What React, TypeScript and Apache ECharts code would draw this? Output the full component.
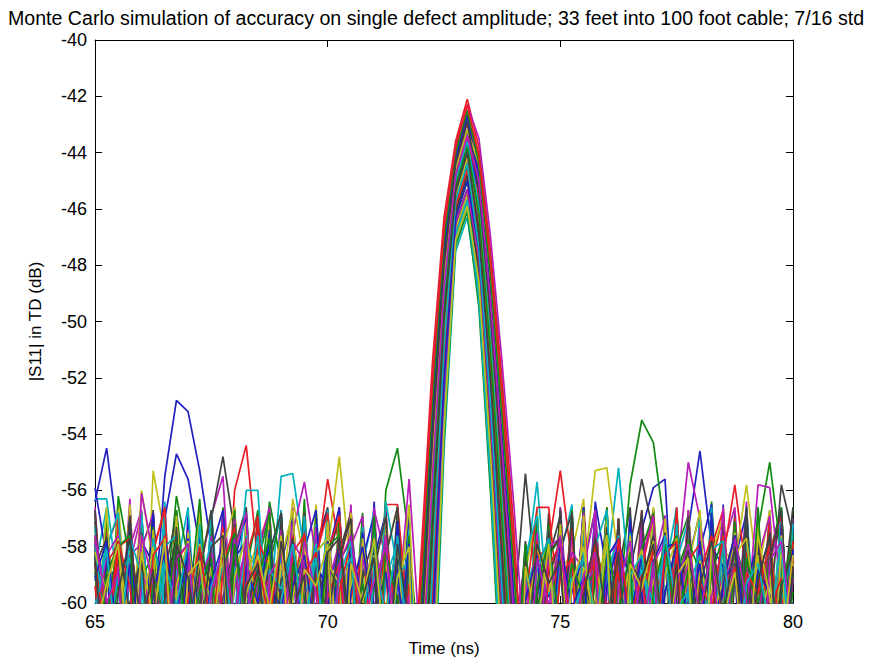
import React, { useEffect, useRef } from "react";
import * as echarts from "echarts";

const titleText =
  "Monte Carlo simulation of accuracy on single defect amplitude; 33 feet into 100 foot cable; 7/16 std";
const xName = "Time (ns)";
const yName = "|S11| in TD (dB)";
const xTicks = { min: 65, max: 80, step: 5 };
const yTicks = { min: -60, max: -40, step: 2 };

// sample times (ns)
const times = [65, 65.25, 65.5, 65.75, 66, 66.25, 66.5, 66.75, 67, 67.25, 67.5, 67.75, 68, 68.25, 68.5, 68.75, 69, 69.25, 69.5, 69.75, 70, 70.25, 70.5, 70.75, 71, 71.25, 71.5, 71.75, 72, 72.25, 72.5, 72.75, 73, 73.25, 73.5, 73.75, 74, 74.25, 74.5, 74.75, 75, 75.25, 75.5, 75.75, 76, 76.25, 76.5, 76.75, 77, 77.25, 77.5, 77.75, 78, 78.25, 78.5, 78.75, 79, 79.25, 79.5, 79.75, 80];

// MATLAB default line colour order
const lineColors = ["#2020c0", "#128a12", "#ea1c24", "#00b2bf", "#b81cb8", "#c0c01c", "#404040"];

// Monte Carlo runs, |S11| in dB at each sample time
const run00 = [-56.4, -54.5, -57.8, -63.0, -57.6, -68.0, -58.2, -63.5, -56.9, -70.0, -62.4, -57.3, -66.0, -58.6, -64.8, -56.6, -72.0, -57.9, -63.2, -65.5, -57.1, -67.0, -58.9, -62.8, -56.4, -68.5, -63.0, -65.8, -66.8, -58.3, -50.5, -45.6, -44.2, -45.9, -50.6, -56.5, -62.7, -68.0, -58.1, -64.3, -57.0, -69.0, -62.2, -56.7, -65.4, -58.5, -63.8, -57.4, -55.9, -55.6, -62.9, -66.5, -57.7, -64.0, -56.5, -71.0, -58.8, -63.4, -57.2, -65.0, -58.0];
const run01 = [-58.4, -64.0, -56.9, -62.6, -67.5, -57.2, -63.7, -58.0, -65.9, -56.5, -62.1, -69.0, -57.8, -64.4, -58.7, -66.2, -57.0, -63.1, -56.3, -65.0, -62.5, -57.6, -68.0, -58.3, -63.9, -56.0, -54.5, -57.8, -62.6, -54.9, -48.4, -44.6, -43.2, -45.6, -50.2, -55.8, -61.9, -66.0, -57.3, -62.7, -56.6, -64.9, -58.4, -68.0, -57.1, -63.3, -56.9, -65.6, -62.0, -57.7, -67.0, -58.6, -64.2, -56.4, -62.9, -66.1, -57.5, -63.6, -58.2, -56.7, -64.5];
const run02 = [-62.8, -57.4, -65.1, -56.7, -63.9, -58.5, -68.0, -57.2, -62.3, -64.7, -56.8, -63.0, -56.0, -54.4, -58.6, -67.2, -58.1, -64.0, -57.0, -62.9, -65.8, -56.6, -63.4, -58.8, -69.0, -57.9, -64.5, -67.0, -58.5, -51.5, -46.3, -43.6, -42.1, -43.8, -47.5, -52.1, -57.3, -64.5, -68.0, -58.0, -63.7, -57.3, -65.4, -62.1, -56.6, -64.8, -58.7, -67.3, -57.4, -62.6, -56.9, -66.0, -63.2, -57.8, -64.1, -58.3, -68.4, -57.0, -62.4, -65.1, -58.6];
const run03 = [-56.9, -63.3, -58.2, -66.0, -57.6, -62.5, -56.4, -64.6, -58.9, -68.0, -57.3, -63.1, -65.3, -56.8, -62.7, -60.5, -55.5, -55.4, -58.2, -64.8, -58.4, -67.5, -57.0, -63.6, -58.0, -65.7, -56.5, -62.9, -70.9, -61.6, -52.5, -46.5, -45.3, -47.4, -52.9, -59.6, -66.6, -62.1, -57.0, -64.9, -58.3, -56.5, -66.8, -62.6, -57.9, -63.5, -56.8, -65.2, -58.7, -68.1, -57.3, -62.8, -64.4, -56.9, -63.0, -58.5, -66.3, -57.6, -62.2, -56.6, -65.0];
const run04 = [-64.1, -57.7, -62.4, -56.3, -65.6, -58.0, -63.8, -57.1, -67.4, -58.8, -56.9, -55.5, -62.6, -65.0, -57.4, -63.2, -56.7, -66.6, -58.4, -64.0, -57.2, -62.9, -56.5, -68.3, -58.1, -63.5, -57.6, -64.7, -64.3, -56.2, -49.2, -45.0, -43.6, -45.3, -49.7, -55.2, -61.2, -58.4, -57.2, -64.0, -56.6, -62.5, -65.9, -56.6, -63.3, -58.0, -67.2, -57.1, -62.7, -64.6, -56.9, -63.8, -58.3, -66.0, -57.5, -62.1, -56.4, -64.9, -58.7, -63.0, -57.2];
const run05 = [-57.8, -63.6, -56.4, -62.1, -64.9, -55.3, -57.6, -65.8, -58.2, -63.0, -57.0, -67.7, -58.6, -64.3, -56.8, -62.6, -57.9, -65.5, -62.0, -56.5, -63.7, -58.1, -66.4, -57.3, -62.8, -64.2, -58.5, -68.0, -68.4, -59.6, -51.3, -45.9, -44.6, -47.7, -53.4, -60.2, -67.4, -62.3, -57.6, -64.4, -58.9, -58.2, -56.3, -63.5, -65.7, -57.2, -62.6, -56.9, -67.0, -58.4, -63.9, -57.7, -62.0, -65.3, -56.6, -63.1, -58.0, -66.6, -57.4, -62.7, -64.0];
const run06 = [-62.2, -56.9, -64.5, -58.1, -63.3, -57.4, -66.2, -62.0, -57.7, -64.1, -57.0, -54.8, -57.5, -63.8, -58.6, -65.3, -57.1, -62.4, -68.2, -58.0, -56.6, -63.6, -57.9, -65.1, -62.3, -56.8, -64.4, -66.8, -65.9, -57.6, -50.0, -45.4, -44.0, -46.8, -52.0, -58.3, -65.0, -57.9, -63.2, -56.8, -65.0, -58.5, -62.8, -57.2, -67.6, -58.9, -56.6, -64.3, -62.1, -57.5, -63.7, -56.9, -66.2, -58.2, -63.0, -57.0, -64.6, -62.4, -56.7, -65.5, -58.3];
const run07 = [-58.3, -64.0, -57.1, -62.7, -66.5, -61.0, -55.5, -52.8, -53.2, -55.3, -58.0, -65.2, -58.6, -63.4, -56.9, -62.2, -67.0, -57.7, -63.9, -58.2, -56.7, -64.8, -62.1, -57.4, -66.1, -58.7, -63.2, -56.6, -71.7, -62.3, -52.9, -46.7, -45.5, -48.9, -55.2, -62.7, -70.5, -58.6, -56.9, -63.8, -57.6, -65.4, -62.0, -57.2, -64.7, -58.3, -67.1, -56.8, -62.9, -57.8, -63.5, -66.0, -58.1, -56.5, -64.2, -62.5, -57.4, -65.6, -58.8, -63.1, -57.0];
const run08 = [-63.0, -57.5, -62.3, -56.9, -64.7, -58.4, -66.6, -57.2, -63.5, -58.0, -65.1, -56.6, -62.8, -57.9, -64.0, -58.7, -56.8, -63.6, -66.3, -57.3, -62.5, -64.9, -56.9, -62.0, -57.7, -65.4, -58.5, -64.1, -61.0, -53.5, -47.5, -44.2, -42.7, -44.1, -47.9, -52.7, -58.1, -63.5, -58.2, -63.0, -57.0, -64.8, -58.6, -56.7, -62.9, -60.5, -55.8, -53.5, -54.3, -57.5, -64.4, -58.0, -63.3, -57.1, -65.9, -62.2, -56.8, -63.7, -58.4, -64.6, -57.6];
const run09 = [-57.6, -62.9, -65.3, -56.7, -63.2, -58.0, -64.4, -57.3, -62.6, -67.3, -57.9, -63.7, -56.6, -65.6, -58.9, -63.0, -57.4, -64.6, -62.3, -58.8, -55.6, -58.0, -64.1, -58.4, -66.5, -57.0, -62.7, -65.0, -66.8, -58.3, -50.5, -45.6, -44.2, -47.1, -52.5, -58.9, -65.8, -63.4, -57.2, -62.6, -56.9, -65.0, -58.8, -63.9, -57.5, -66.4, -62.1, -56.7, -64.3, -58.2, -63.0, -57.0, -67.5, -58.6, -56.9, -64.0, -62.4, -57.6, -65.2, -58.0, -63.2];
const run10 = [-62.0, -56.8, -64.2, -58.3, -63.6, -57.1, -65.5, -58.8, -56.6, -63.1, -58.0, -66.7, -57.5, -62.9, -64.8, -56.9, -62.3, -57.7, -67.1, -58.5, -63.4, -57.0, -64.0, -58.7, -56.7, -65.6, -62.2, -57.4, -75.0, -65.0, -54.6, -47.5, -46.3, -49.2, -55.7, -63.3, -71.2, -59.0, -55.7, -60.5, -64.5, -58.4, -63.2, -56.8, -65.9, -57.6, -62.7, -57.1, -64.4, -58.9, -56.6, -63.5, -57.8, -66.2, -58.3, -63.8, -56.9, -62.5, -64.9, -57.3, -62.8];
const run11 = [-56.6, -62.4, -57.9, -65.0, -58.6, -63.8, -57.2, -66.9, -62.0, -56.9, -64.5, -58.3, -63.1, -57.0, -65.7, -58.9, -62.6, -57.5, -55.7, -58.4, -64.2, -56.8, -62.9, -66.0, -57.6, -63.3, -58.1, -64.6, -63.5, -55.6, -48.8, -44.8, -43.4, -44.7, -48.8, -54.0, -59.6, -66.0, -58.1, -63.6, -57.3, -62.2, -56.6, -65.3, -58.7, -63.0, -57.4, -67.0, -62.3, -56.9, -64.1, -58.0, -63.5, -57.6, -65.7, -62.0, -56.7, -64.4, -58.5, -57.2, -63.3];
const run12 = [-63.5, -57.0, -62.7, -56.5, -64.3, -58.4, -63.0, -57.6, -66.1, -58.8, -56.7, -64.0, -62.3, -57.4, -65.4, -58.1, -63.7, -56.9, -62.5, -64.8, -58.2, -54.8, -59.0, -65.0, -57.5, -63.2, -58.7, -66.4, -69.2, -60.3, -51.7, -46.1, -44.8, -46.8, -52.0, -58.3, -65.0, -58.7, -64.1, -57.4, -62.8, -56.8, -65.6, -58.2, -63.4, -57.1, -66.3, -62.0, -56.6, -63.9, -58.5, -64.7, -57.3, -62.6, -56.9, -65.1, -58.8, -63.0, -57.7, -66.8, -58.3];
const run13 = [-58.2, -63.7, -57.3, -62.0, -65.2, -56.8, -63.3, -58.5, -64.6, -57.0, -62.8, -67.0, -58.0, -56.6, -63.9, -57.7, -65.5, -62.2, -57.1, -64.4, -58.6, -56.9, -63.0, -66.2, -57.8, -62.4, -56.7, -64.9, -65.1, -56.9, -49.6, -45.2, -43.8, -46.5, -51.6, -57.7, -60.5, -55.4, -59.8, -64.6, -57.2, -62.9, -56.6, -65.8, -58.1, -63.3, -57.5, -62.1, -64.8, -56.9, -63.6, -58.4, -66.5, -57.0, -62.7, -56.8, -64.2, -58.0, -63.4, -57.6, -65.3];
const run14 = [-62.6, -57.2, -64.9, -58.7, -63.4, -66.0, -57.0, -54.7, -55.6, -58.0, -64.7, -58.3, -63.0, -57.4, -62.2, -65.6, -56.8, -63.5, -58.0, -64.3, -57.6, -62.9, -67.2, -58.4, -56.9, -63.8, -57.3, -62.5, -73.4, -63.7, -53.8, -47.1, -45.9, -48.3, -54.3, -61.4, -68.9, -62.2, -57.0, -64.5, -58.6, -63.1, -66.3, -56.4, -58.9, -64.0, -57.3, -62.6, -56.7, -65.1, -58.2, -63.6, -57.7, -62.3, -67.4, -58.5, -56.8, -64.2, -62.0, -57.4, -63.7];
const run15 = [-57.7, -63.3, -56.2, -58.5, -64.6, -57.1, -62.4, -56.8, -65.3, -58.2, -63.7, -57.5, -66.6, -58.9, -56.7, -64.1, -62.0, -57.6, -63.2, -56.9, -65.9, -58.4, -62.8, -57.2, -64.4, -58.0, -63.6, -66.7, -67.6, -58.9, -50.9, -45.7, -44.4, -46.2, -51.1, -57.1, -63.5, -58.5, -63.8, -57.6, -62.3, -56.9, -64.9, -58.1, -63.4, -57.0, -65.8, -62.6, -57.4, -63.1, -56.7, -64.5, -58.6, -66.1, -57.8, -62.9, -57.2, -63.9, -58.3, -56.6, -64.3];
const run16 = [-63.9, -58.0, -56.9, -64.2, -62.1, -57.5, -65.4, -58.6, -63.2, -56.7, -62.7, -57.9, -64.8, -58.3, -67.0, -57.2, -62.5, -63.8, -56.8, -65.1, -58.7, -63.0, -57.4, -62.2, -64.7, -56.6, -63.5, -65.6, -60.2, -52.9, -47.1, -44.0, -42.6, -44.7, -48.8, -54.0, -59.6, -63.0, -58.4, -58.0, -55.3, -58.6, -64.4, -62.0, -56.8, -63.9, -58.1, -65.5, -57.3, -62.8, -56.6, -64.0, -58.7, -63.3, -57.5, -66.4, -58.0, -62.6, -56.9, -64.7, -58.6];
const run17 = [-58.8, -56.6, -63.4, -57.9, -65.0, -62.2, -57.1, -64.5, -58.4, -63.1, -56.9, -66.1, -58.7, -62.9, -57.3, -64.2, -56.7, -63.6, -58.1, -65.7, -57.6, -62.3, -56.8, -64.9, -58.5, -63.3, -57.8, -62.6, -70.9, -61.6, -52.5, -46.5, -45.3, -48.6, -54.7, -62.0, -69.7, -63.0, -57.4, -62.7, -56.9, -64.6, -58.3, -63.8, -58.8, -55.2, -59.5, -64.1, -57.1, -62.4, -65.4, -56.7, -63.2, -58.0, -64.8, -57.5, -62.9, -56.6, -65.0, -58.6, -63.5];
const run18 = [-62.4, -57.3, -64.1, -58.6, -56.8, -63.5, -58.1, -65.2, -57.4, -62.8, -64.4, -56.9, -63.0, -58.3, -66.0, -57.7, -62.5, -56.6, -64.7, -58.8, -63.2, -57.2, -65.6, -62.0, -56.7, -58.4, -60.5, -55.6, -61.8, -54.2, -48.0, -44.4, -42.9, -44.4, -48.4, -53.4, -58.8, -65.4, -58.9, -63.6, -57.1, -62.3, -56.8, -64.9, -58.2, -63.0, -57.6, -66.2, -58.7, -56.9, -63.8, -57.4, -62.6, -64.5, -58.0, -56.6, -63.4, -57.9, -65.3, -62.2, -57.0];
const run19 = [-57.4, -62.8, -56.7, -64.3, -58.2, -63.1, -57.6, -65.9, -62.0, -56.8, -63.7, -58.5, -64.6, -57.1, -62.4, -56.9, -65.2, -58.0, -63.4, -57.8, -66.3, -58.6, -62.9, -57.0, -64.1, -58.3, -56.6, -63.8, -68.4, -59.6, -51.3, -45.9, -44.6, -46.5, -51.6, -57.7, -64.3, -58.2, -63.5, -57.3, -62.6, -64.8, -59.0, -55.3, -55.2, -58.5, -63.9, -58.4, -65.0, -57.0, -62.7, -56.8, -64.2, -58.6, -63.2, -57.2, -66.6, -58.9, -56.7, -63.6, -57.9];
const run20 = [-64.4, -58.5, -63.0, -57.0, -62.6, -56.7, -65.1, -58.9, -63.6, -57.4, -64.9, -62.1, -56.8, -63.4, -58.2, -65.8, -57.6, -62.3, -56.9, -64.2, -58.0, -63.7, -57.3, -66.6, -58.7, -62.9, -57.1, -64.0, -66.8, -58.3, -50.5, -45.6, -44.2, -46.2, -51.1, -57.1, -63.5, -57.8, -63.2, -58.4, -56.9, -64.7, -62.0, -57.5, -65.3, -58.1, -63.5, -56.7, -62.8, -64.4, -57.2, -63.0, -58.6, -66.0, -57.4, -62.6, -56.8, -64.1, -60.5, -55.8, -57.6];
const run21 = [-58.1, -63.8, -57.5, -62.2, -64.7, -56.9, -63.3, -58.4, -65.5, -57.2, -62.6, -56.7, -64.0, -58.8, -63.2, -57.7, -66.4, -62.1, -57.0, -63.9, -58.3, -56.6, -64.6, -62.4, -57.9, -63.5, -65.1, -58.0, -63.5, -55.6, -48.8, -44.8, -43.4, -45.9, -50.6, -56.5, -62.7, -62.5, -57.1, -64.4, -58.6, -63.0, -56.8, -65.6, -58.2, -62.7, -57.4, -64.2, -58.8, -63.4, -60.5, -57.4, -54.6, -58.0, -64.9, -58.5, -63.1, -57.3, -62.4, -65.7, -58.1];
const run22 = [-63.2, -57.9, -62.5, -65.4, -58.0, -56.9, -63.6, -57.4, -64.5, -62.0, -57.6, -66.1, -58.3, -63.0, -60.5, -56.4, -58.6, -64.8, -57.2, -62.7, -56.7, -65.0, -58.5, -63.3, -57.0, -62.2, -64.3, -58.7, -72.5, -63.0, -53.4, -46.9, -45.7, -48.0, -53.8, -60.8, -68.1, -58.8, -56.9, -63.7, -58.0, -65.2, -57.5, -62.3, -56.6, -64.4, -58.4, -63.0, -57.1, -66.5, -58.9, -57.7, -63.6, -56.8, -62.5, -64.0, -60.5, -57.4, -55.0, -58.3, -63.2];
const run23 = [-56.8, -62.3, -64.6, -57.5, -63.0, -58.2, -56.6, -65.3, -58.8, -63.4, -57.1, -62.7, -64.9, -58.4, -56.9, -63.6, -57.8, -66.2, -62.1, -57.3, -63.2, -58.7, -56.7, -64.4, -62.6, -57.7, -63.9, -62.0, -65.1, -56.9, -49.6, -45.2, -43.8, -45.6, -50.2, -55.8, -61.9, -64.5, -58.0, -63.3, -57.2, -62.4, -56.8, -64.9, -58.5, -63.6, -57.0, -65.8, -62.2, -57.6, -63.1, -56.7, -64.3, -61.0, -58.4, -55.8, -59.0, -64.0, -57.7, -62.9, -58.4];
const run24 = [-56.3, -56.3, -59.5, -64.0, -57.3, -62.9, -56.8, -65.4, -58.1, -63.5, -57.6, -62.2, -56.9, -64.8, -58.8, -63.1, -57.2, -66.0, -58.4, -62.6, -56.7, -64.5, -58.0, -63.8, -57.4, -62.3, -65.2, -58.6, -68.4, -59.6, -51.3, -45.9, -44.6, -47.4, -52.9, -59.6, -66.6, -62.1, -56.7, -63.9, -58.3, -64.7, -57.4, -62.8, -56.9, -65.5, -58.6, -63.2, -57.1, -62.4, -64.6, -57.8, -63.0, -56.6, -65.1, -58.7, -63.5, -57.3, -62.6, -56.8, -64.1];
const run25 = [-62.7, -57.2, -63.5, -58.0, -56.7, -64.3, -62.0, -57.6, -65.9, -58.3, -63.2, -56.9, -62.5, -64.7, -57.4, -63.0, -58.6, -56.8, -65.0, -62.2, -57.5, -63.7, -58.1, -64.6, -56.6, -62.9, -57.7, -63.4, -61.8, -54.2, -48.0, -44.4, -42.9, -45.0, -49.3, -54.6, -60.4, -65.7, -58.5, -63.1, -57.0, -64.4, -58.8, -56.7, -63.6, -57.9, -65.0, -62.3, -57.2, -63.8, -59.0, -55.0, -57.0, -60.0, -64.5, -57.6, -63.3, -58.4, -56.9, -64.8, -62.1];
const run26 = [-58.6, -64.1, -57.0, -62.6, -56.8, -63.9, -58.3, -65.6, -57.5, -62.9, -64.4, -58.0, -56.6, -63.3, -57.8, -62.1, -65.0, -58.5, -63.6, -57.2, -62.4, -56.9, -64.8, -58.9, -63.1, -57.4, -62.7, -64.0, -70.1, -61.0, -52.1, -46.3, -45.0, -48.3, -54.3, -61.4, -68.9, -62.0, -57.1, -64.3, -58.4, -63.0, -56.8, -65.2, -58.7, -63.4, -57.3, -62.5, -64.9, -57.8, -63.1, -56.7, -62.2, -65.5, -58.1, -58.6, -55.8, -59.2, -63.8, -57.4, -62.7];
const run27 = [-57.1, -62.7, -64.8, -58.0, -63.4, -57.4, -62.1, -56.7, -64.5, -58.8, -63.0, -57.6, -65.3, -62.2, -56.9, -63.8, -58.4, -64.0, -57.3, -62.6, -66.2, -58.2, -56.8, -63.3, -57.9, -62.4, -64.6, -58.3, -67.6, -58.9, -50.9, -45.7, -44.4, -47.1, -52.5, -58.9, -65.8, -62.6, -57.3, -63.9, -58.1, -56.8, -64.6, -58.6, -63.2, -61.0, -58.0, -55.6, -57.5, -63.0, -58.3, -64.7, -57.2, -62.5, -56.9, -65.6, -58.5, -63.4, -57.5, -62.2, -64.3];
const run28 = [-63.1, -57.6, -62.3, -56.9, -64.4, -58.5, -63.7, -57.2, -62.9, -65.7, -58.1, -56.7, -63.5, -57.8, -62.4, -64.3, -58.6, -56.9, -63.0, -57.5, -65.1, -62.0, -57.3, -63.6, -58.4, -56.8, -64.1, -65.5, -62.6, -54.9, -48.4, -44.6, -43.2, -44.7, -48.8, -54.0, -59.6, -65.9, -58.2, -63.4, -57.0, -62.7, -56.6, -64.2, -58.8, -63.1, -57.4, -65.4, -62.0, -57.6, -63.7, -58.3, -64.5, -56.8, -62.8, -57.9, -63.6, -58.1, -65.0, -57.2, -62.3];
const run29 = [-58.9, -64.5, -57.7, -63.0, -56.9, -62.4, -60.5, -56.2, -58.4, -64.9, -57.1, -62.6, -56.7, -63.9, -58.2, -65.3, -57.5, -62.0, -64.4, -58.0, -63.5, -57.0, -62.7, -56.8, -64.2, -58.6, -63.3, -57.6, -74.2, -64.3, -54.2, -47.3, -46.1, -49.5, -56.1, -63.9, -72.0, -58.4, -63.7, -57.2, -62.3, -56.7, -64.8, -58.9, -63.1, -57.5, -65.6, -62.2, -57.0, -63.4, -58.1, -56.9, -64.3, -62.6, -57.4, -63.8, -58.5, -65.1, -57.7, -62.0, -56.6];
const run30 = [-62.5, -57.1, -63.7, -58.3, -65.2, -57.6, -62.2, -56.8, -64.0, -58.7, -63.3, -57.3, -62.8, -65.5, -58.0, -56.7, -63.6, -57.9, -62.3, -64.5, -58.2, -56.9, -63.2, -58.8, -62.6, -56.5, -56.5, -61.0, -69.2, -60.3, -51.7, -46.1, -44.8, -48.0, -53.8, -60.8, -68.1, -62.9, -57.5, -64.1, -58.0, -63.5, -56.8, -62.4, -65.3, -57.8, -63.0, -58.6, -56.7, -64.6, -62.1, -57.3, -63.2, -58.4, -65.8, -57.0, -62.7, -64.0, -58.2, -56.9, -63.6];
const run31 = [-57.3, -63.0, -58.6, -64.2, -56.8, -62.5, -57.9, -65.0, -58.4, -63.6, -56.7, -62.3, -64.7, -57.5, -63.1, -58.2, -56.9, -64.4, -62.0, -57.2, -63.8, -58.5, -65.4, -57.7, -62.9, -56.4, -58.8, -64.3, -64.3, -56.2, -49.2, -45.0, -43.6, -46.2, -51.1, -57.1, -63.5, -58.7, -64.0, -57.4, -62.6, -56.9, -63.3, -58.0, -65.2, -57.6, -62.2, -64.4, -56.7, -63.0, -58.5, -57.1, -64.8, -62.3, -57.8, -63.5, -56.6, -62.9, -58.3, -64.6, -57.2];
const run32 = [-63.3, -57.8, -62.0, -64.6, -58.1, -56.8, -63.5, -58.7, -65.0, -57.4, -62.6, -64.1, -57.0, -63.4, -58.3, -56.6, -64.9, -58.9, -63.2, -57.3, -62.8, -65.6, -58.0, -56.9, -63.7, -57.6, -62.3, -66.0, -59.3, -52.2, -46.7, -43.8, -42.3, -43.5, -47.0, -51.5, -56.5, -62.2, -65.0, -58.3, -63.6, -57.4, -62.7, -56.9, -64.5, -58.6, -63.3, -57.1, -65.4, -58.0, -62.5, -56.7, -63.9, -58.4, -64.7, -57.3, -61.0, -55.8, -55.9, -59.7, -63.0];
const run33 = [-58.0, -63.4, -57.3, -62.7, -56.0, -58.6, -64.3, -57.7, -62.9, -56.8, -63.8, -58.2, -65.5, -57.1, -62.4, -64.0, -58.5, -56.7, -63.3, -57.9, -62.1, -64.7, -57.4, -63.0, -58.8, -56.9, -64.5, -62.6, -71.7, -62.3, -52.9, -46.7, -45.5, -47.7, -53.4, -60.2, -67.4, -58.9, -56.8, -63.5, -57.6, -64.9, -58.2, -62.8, -57.0, -65.4, -58.7, -63.2, -56.6, -62.4, -64.6, -57.8, -63.7, -58.3, -56.9, -64.2, -62.5, -57.2, -63.4, -58.0, -65.1];
const run34 = [-56.7, -62.9, -58.2, -63.8, -57.5, -64.7, -58.9, -56.9, -63.1, -57.6, -65.4, -62.2, -57.2, -63.6, -58.1, -64.4, -57.0, -62.5, -56.8, -63.9, -58.7, -65.0, -57.8, -62.3, -64.2, -58.3, -56.6, -63.5, -65.9, -57.6, -50.0, -45.4, -44.0, -45.9, -50.6, -56.5, -62.7, -63.2, -57.9, -62.4, -56.7, -64.5, -58.4, -63.0, -57.3, -65.7, -58.8, -56.9, -63.6, -57.7, -62.2, -64.8, -58.0, -63.3, -57.1, -62.7, -56.6, -64.4, -58.5, -60.5, -56.6];
const run35 = [-55.9, -58.4, -63.9, -57.2, -62.6, -56.8, -64.2, -58.0, -63.3, -57.7, -62.1, -65.6, -58.5, -56.9, -63.7, -57.4, -62.8, -64.6, -58.1, -56.7, -63.0, -57.9, -62.4, -65.2, -58.7, -63.5, -57.1, -64.8, -64.3, -56.2, -49.2, -45.0, -43.6, -45.0, -49.3, -54.6, -60.4, -65.6, -58.7, -63.2, -57.5, -62.3, -56.9, -64.1, -58.2, -63.7, -57.0, -62.9, -65.3, -57.6, -63.4, -58.5, -56.8, -64.0, -62.1, -57.4, -63.9, -58.0, -64.7, -57.8, -62.5];
const run36 = [-62.2, -56.9, -63.6, -58.4, -64.8, -57.3, -62.7, -56.7, -60.5, -56.3, -62.5, -64.4, -57.8, -63.1, -58.6, -56.8, -64.1, -62.0, -57.5, -63.4, -58.2, -65.1, -57.1, -62.8, -56.9, -64.0, -58.5, -63.2, -70.1, -61.0, -52.1, -46.3, -45.0, -47.1, -52.5, -58.9, -65.8, -62.3, -57.0, -64.2, -58.5, -63.0, -56.7, -65.0, -57.9, -62.6, -64.3, -58.1, -56.8, -63.5, -57.4, -62.2, -65.5, -58.3, -63.8, -57.1, -62.9, -56.6, -64.4, -58.6, -63.1];
const run37 = [-58.5, -63.9, -57.0, -62.4, -64.6, -58.1, -56.7, -63.3, -57.8, -62.1, -65.2, -58.6, -57.3, -63.7, -56.9, -62.6, -64.3, -57.6, -63.0, -58.3, -56.8, -64.0, -62.3, -57.4, -65.4, -58.0, -63.5, -64.9, -61.8, -54.2, -48.0, -44.4, -42.9, -45.3, -49.7, -55.2, -61.2, -60.0, -56.6, -56.6, -60.8, -57.2, -64.5, -58.4, -63.1, -57.0, -65.7, -58.8, -56.9, -63.6, -57.5, -62.3, -64.1, -58.0, -56.7, -63.4, -57.8, -62.6, -65.0, -58.2, -63.8];
const run38 = [-63.6, -58.0, -56.8, -63.2, -57.7, -62.3, -64.9, -58.4, -63.0, -57.2, -62.6, -64.2, -60.5, -56.0, -56.0, -62.1, -57.9, -63.5, -56.9, -62.7, -65.3, -58.1, -63.8, -57.3, -62.2, -64.4, -57.6, -63.1, -73.4, -63.7, -53.8, -47.1, -45.9, -49.2, -55.7, -63.3, -71.2, -58.3, -56.9, -63.4, -57.6, -62.9, -64.7, -58.0, -56.7, -63.2, -57.5, -65.1, -58.9, -63.6, -57.2, -62.4, -56.8, -64.3, -58.6, -63.0, -57.7, -62.3, -65.4, -58.1, -63.7];
const run39 = [-57.9, -63.2, -58.7, -64.4, -56.1, -58.3, -63.6, -57.0, -62.5, -64.8, -57.6, -63.1, -58.2, -56.8, -64.0, -62.3, -57.4, -63.5, -58.0, -65.1, -57.2, -62.6, -56.7, -63.9, -58.6, -64.2, -57.8, -62.9, -66.8, -58.3, -50.5, -45.6, -44.2, -46.8, -52.0, -58.3, -65.0, -62.7, -57.5, -64.0, -58.2, -63.4, -56.8, -62.1, -65.0, -57.7, -63.2, -58.5, -56.9, -64.6, -58.0, -63.8, -57.3, -62.5, -56.6, -64.1, -58.7, -63.0, -57.9, -62.4, -64.5];
const run40 = [-62.0, -56.6, -63.8, -58.1, -64.5, -57.4, -62.7, -56.9, -63.3, -58.6, -65.0, -57.5, -62.2, -64.1, -58.0, -63.4, -60.2, -56.3, -58.5, -64.3, -57.1, -62.9, -56.8, -63.6, -58.3, -65.2, -60.5, -56.5, -65.9, -57.6, -50.0, -45.4, -44.0, -45.6, -50.2, -55.8, -61.9, -65.0, -58.4, -63.7, -57.2, -62.6, -56.9, -64.4, -58.0, -63.1, -57.6, -62.3, -64.9, -57.1, -63.5, -58.7, -56.7, -64.0, -62.2, -57.5, -63.3, -58.2, -65.3, -57.8, -62.6];
const run41 = [-63.4, -57.7, -62.2, -56.9, -64.1, -58.5, -63.0, -57.3, -65.5, -58.9, -56.7, -63.7, -57.9, -62.4, -64.6, -58.2, -56.8, -63.2, -57.6, -62.0, -64.8, -58.4, -57.0, -63.6, -58.8, -56.9, -64.3, -62.5, -70.9, -61.6, -52.5, -46.5, -45.3, -48.3, -54.3, -61.4, -68.9, -58.1, -63.5, -57.4, -62.8, -56.8, -64.4, -58.6, -63.1, -57.0, -65.2, -58.3, -62.7, -57.5, -64.0, -56.9, -63.4, -58.0, -62.6, -65.1, -57.3, -63.8, -58.5, -56.7, -64.2];
const run42 = [-59.2, -58.4, -66.0, -60.9, -57.8, -58.6, -64.2, -59.5, -59.0, -70.0, -58.1, -60.6, -57.6, -62.8, -65.5, -58.8, -59.7, -57.9, -61.9, -68.0, -59.3, -58.2, -63.4, -57.5, -60.1, -66.8, -58.6, -64.0, -61.0, -53.5, -47.5, -44.2, -42.7, -45.0, -49.3, -54.6, -60.4, -64.5, -58.9, -57.7, -62.0, -59.6, -58.3, -67.2, -60.4, -57.9, -59.1, -63.8, -58.5, -57.6, -65.0, -59.8, -61.1, -58.0, -58.7, -69.3, -59.4, -57.8, -62.5, -60.2, -58.9];
const run43 = [-58.0, -62.7, -59.1, -58.3, -67.5, -57.7, -59.9, -61.6, -58.4, -64.0, -60.3, -58.8, -57.5, -66.1, -59.6, -58.2, -62.9, -57.9, -60.7, -59.0, -70.5, -58.5, -57.8, -61.8, -59.4, -58.1, -65.3, -60.0, -67.6, -58.9, -50.9, -45.7, -44.4, -46.5, -51.6, -57.7, -64.3, -57.9, -63.2, -59.3, -58.6, -60.8, -68.0, -58.0, -59.5, -57.6, -62.4, -61.0, -58.7, -64.7, -59.2, -57.8, -58.9, -66.4, -60.1, -57.7, -59.6, -62.1, -58.3, -67.0, -59.0];
const run44 = [-61.4, -58.6, -57.9, -65.2, -59.0, -60.4, -57.6, -62.3, -58.9, -59.7, -68.8, -58.2, -60.9, -63.5, -57.8, -58.7, -66.0, -59.4, -57.5, -61.2, -58.1, -64.6, -59.8, -58.4, -62.0, -57.7, -60.8, -65.9, -63.5, -55.6, -48.8, -44.8, -43.4, -45.6, -50.2, -55.8, -61.9, -62.0, -58.4, -60.9, -57.8, -65.7, -59.2, -58.6, -61.5, -57.6, -63.9, -59.9, -58.1, -60.6, -69.0, -58.5, -57.9, -62.2, -59.6, -58.3, -64.4, -57.7, -60.3, -59.1, -66.5];
const run45 = [-60.1, -57.8, -63.7, -58.9, -59.6, -66.3, -58.0, -57.6, -62.1, -59.3, -60.8, -58.5, -65.4, -57.9, -59.0, -61.7, -58.3, -67.9, -59.8, -58.2, -57.7, -63.3, -60.5, -58.7, -64.8, -59.1, -57.9, -61.3, -72.5, -63.0, -53.4, -46.9, -45.7, -48.9, -55.2, -62.7, -70.5, -59.6, -58.2, -64.1, -57.8, -60.7, -58.9, -67.3, -59.3, -57.6, -62.6, -58.4, -61.0, -59.7, -57.9, -65.6, -58.8, -60.3, -57.7, -63.0, -59.2, -58.5, -68.2, -59.9, -58.1];
const run46 = [-57.6, -59.9, -64.9, -58.3, -57.9, -61.8, -59.2, -68.1, -58.6, -60.3, -57.7, -63.0, -59.5, -58.1, -62.6, -60.0, -57.8, -66.5, -58.9, -59.6, -61.1, -57.6, -64.3, -58.4, -59.1, -62.9, -58.0, -60.6, -65.9, -57.6, -50.0, -45.4, -44.0, -46.5, -51.6, -57.7, -64.3, -63.1, -57.9, -59.4, -61.9, -58.2, -58.8, -66.9, -59.7, -57.6, -60.4, -63.6, -58.6, -57.8, -62.1, -59.3, -65.2, -58.0, -59.8, -57.7, -61.6, -58.9, -64.0, -59.5, -57.9];
const run47 = [-62.2, -59.0, -58.1, -60.7, -57.6, -66.6, -58.8, -59.5, -63.4, -57.9, -60.2, -58.4, -69.5, -59.1, -57.8, -61.5, -58.6, -60.9, -64.7, -58.2, -57.7, -62.4, -59.4, -58.0, -65.8, -60.1, -57.9, -63.8, -62.6, -54.9, -48.4, -44.6, -43.2, -44.4, -48.4, -53.4, -58.8, -65.2, -59.0, -57.8, -61.4, -58.5, -63.7, -59.9, -57.6, -60.5, -58.7, -66.0, -59.2, -58.1, -62.7, -57.9, -60.8, -59.5, -67.7, -58.3, -57.7, -61.2, -59.0, -63.5, -58.6];
const run48 = [-58.7, -57.7, -62.5, -60.0, -58.3, -65.0, -59.4, -57.8, -61.3, -58.9, -67.4, -59.8, -58.0, -60.5, -57.6, -63.9, -59.2, -58.5, -61.7, -57.9, -66.2, -58.8, -60.4, -59.0, -57.7, -62.8, -58.4, -60.0, -69.2, -60.3, -51.7, -46.1, -44.8, -47.7, -53.4, -60.2, -67.4, -58.5, -61.7, -59.0, -57.8, -64.6, -58.3, -60.2, -57.7, -62.9, -59.4, -58.1, -67.1, -59.6, -57.9, -60.9, -58.6, -63.2, -59.1, -57.6, -61.4, -58.2, -65.5, -59.7, -58.0];
const run49 = [-63.6, -58.5, -59.4, -57.9, -62.0, -59.7, -58.2, -65.6, -57.7, -60.6, -59.0, -63.1, -58.4, -57.8, -68.3, -59.3, -60.2, -57.9, -62.7, -58.6, -59.5, -64.1, -57.6, -60.3, -58.9, -66.9, -59.2, -61.7, -65.1, -56.9, -49.6, -45.2, -43.8, -45.3, -49.7, -55.2, -61.2, -63.0, -58.1, -59.8, -57.7, -61.8, -58.9, -65.1, -59.4, -57.9, -60.6, -58.3, -62.7, -59.6, -58.0, -64.5, -57.8, -61.1, -59.2, -58.6, -66.7, -59.0, -57.7, -62.3, -60.0];
const run50 = [-58.8, -60.5, -57.8, -64.4, -59.1, -58.3, -61.9, -57.6, -66.7, -59.6, -58.2, -60.8, -57.9, -63.5, -59.0, -58.6, -67.0, -59.8, -57.7, -61.4, -58.5, -59.7, -64.9, -58.0, -60.3, -57.8, -62.6, -66.2, -60.2, -52.9, -47.1, -44.0, -42.5, -44.4, -48.4, -53.4, -58.8, -64.8, -60.2, -58.3, -57.7, -62.5, -59.5, -58.9, -66.3, -57.9, -60.7, -59.2, -63.8, -58.4, -57.6, -61.6, -59.9, -58.2, -65.4, -57.8, -60.1, -58.7, -63.2, -59.3, -57.9];
const run51 = [-59.4, -63.0, -58.0, -57.7, -60.9, -59.2, -66.4, -58.5, -57.9, -62.2, -59.6, -58.3, -64.6, -57.8, -60.0, -59.1, -69.0, -58.2, -57.6, -61.5, -59.8, -58.6, -63.3, -57.9, -60.6, -58.8, -65.1, -59.3, -68.4, -59.6, -51.3, -45.9, -44.6, -46.8, -52.0, -58.3, -65.0, -60.6, -57.8, -62.8, -59.1, -58.4, -65.9, -57.7, -60.2, -58.9, -63.4, -59.5, -57.9, -61.3, -58.2, -67.6, -59.0, -57.6, -60.8, -58.7, -62.9, -59.4, -58.0, -64.1, -57.8];
const run52 = [-57.9, -61.6, -59.0, -58.4, -65.3, -57.7, -60.1, -58.8, -62.9, -59.5, -57.8, -67.8, -58.7, -60.4, -57.6, -63.2, -59.9, -58.1, -61.0, -57.9, -65.9, -59.2, -58.4, -60.7, -57.7, -63.6, -59.0, -58.5, -64.3, -56.2, -49.2, -45.0, -43.6, -45.9, -50.6, -56.5, -62.7, -66.0, -58.6, -59.7, -57.9, -62.4, -58.2, -60.5, -59.0, -57.6, -64.9, -58.8, -60.0, -57.8, -63.1, -59.4, -58.3, -61.7, -57.9, -66.8, -59.1, -58.5, -60.9, -57.7, -62.6];
const run53 = [-60.7, -58.3, -57.6, -63.8, -59.4, -58.7, -61.2, -57.9, -66.0, -59.1, -58.2, -60.6, -57.7, -64.7, -58.9, -59.6, -62.3, -57.8, -58.6, -68.6, -59.3, -57.9, -61.9, -58.4, -60.3, -57.6, -63.0, -59.7, -70.9, -61.6, -52.5, -46.5, -45.3, -47.7, -53.4, -60.2, -67.4, -59.2, -62.3, -58.0, -57.7, -60.8, -59.5, -65.8, -58.3, -57.9, -61.5, -59.0, -63.3, -57.6, -60.1, -58.6, -66.4, -59.8, -57.8, -62.0, -58.9, -60.5, -57.7, -64.3, -59.1];
const run54 = [-58.2, -59.6, -57.7, -62.6, -60.3, -58.0, -67.1, -59.4, -57.8, -61.0, -58.7, -63.7, -59.1, -57.6, -60.5, -58.3, -65.2, -59.8, -57.9, -62.1, -58.6, -59.3, -66.6, -57.7, -60.9, -58.5, -61.8, -63.4, -66.8, -58.3, -50.5, -45.6, -44.2, -46.2, -51.1, -57.1, -63.5, -61.2, -58.0, -59.6, -57.8, -63.6, -58.7, -60.3, -57.6, -66.2, -59.3, -58.1, -61.9, -59.0, -57.7, -64.8, -58.5, -60.6, -59.2, -57.9, -62.8, -58.3, -61.0, -57.6, -67.4];
const run55 = [-65.5, -59.2, -57.8, -60.4, -58.5, -63.5, -59.9, -57.6, -61.7, -58.1, -59.4, -66.0, -57.9, -60.2, -58.8, -62.8, -59.5, -57.7, -64.0, -58.3, -60.7, -57.8, -61.9, -59.1, -58.4, -67.3, -59.7, -63.9, -61.8, -54.2, -48.0, -44.4, -42.9, -45.3, -49.7, -55.2, -61.2, -65.8, -59.6, -58.2, -57.7, -62.0, -59.1, -60.8, -57.9, -64.6, -58.5, -59.3, -57.6, -63.1, -59.8, -58.1, -61.2, -57.8, -66.9, -58.9, -60.4, -57.7, -62.6, -59.4, -58.2];
const run56 = [-59.1, -57.8, -61.5, -58.6, -64.8, -59.7, -57.7, -60.3, -58.1, -62.4, -59.2, -57.9, -69.2, -58.7, -60.0, -57.6, -63.0, -59.4, -58.3, -61.3, -57.8, -65.7, -59.6, -58.0, -60.5, -58.9, -62.1, -57.9, -70.1, -61.0, -52.1, -46.3, -45.0, -47.4, -52.9, -59.6, -66.6, -59.9, -58.3, -62.6, -57.8, -60.2, -59.1, -64.0, -58.4, -57.7, -61.0, -59.6, -66.1, -58.0, -57.9, -60.7, -58.6, -63.5, -59.3, -57.6, -61.8, -58.8, -59.7, -65.3, -58.1];
const run57 = [-62.9, -58.9, -58.0, -57.6, -65.8, -59.0, -60.6, -57.8, -62.0, -59.5, -58.4, -64.3, -57.9, -60.8, -59.1, -57.7, -66.8, -58.6, -59.8, -62.6, -58.0, -57.6, -61.4, -59.3, -63.3, -58.2, -59.9, -64.6, -65.1, -56.9, -49.6, -45.2, -43.8, -46.2, -51.1, -57.1, -63.5, -64.2, -59.4, -57.8, -61.1, -58.6, -59.8, -63.0, -57.7, -60.4, -58.2, -67.9, -59.5, -57.9, -60.9, -58.8, -62.2, -59.0, -57.6, -65.0, -58.4, -60.0, -57.8, -62.4, -59.6];
const run58 = [-58.6, -61.2, -57.8, -59.4, -63.6, -58.3, -57.7, -66.1, -59.8, -58.0, -61.0, -57.9, -64.1, -59.3, -58.5, -60.7, -57.6, -62.8, -59.0, -58.2, -67.5, -59.6, -57.8, -61.7, -58.7, -60.2, -63.0, -65.4, -59.3, -52.2, -46.7, -43.8, -42.3, -44.1, -47.9, -52.7, -58.1, -63.1, -66.0, -58.7, -57.9, -61.3, -59.4, -58.1, -64.9, -57.7, -60.6, -59.0, -62.2, -58.3, -57.8, -65.5, -59.2, -60.3, -57.6, -63.4, -58.9, -59.7, -57.9, -61.5, -58.4];
const run59 = [-60.3, -58.1, -62.4, -57.7, -59.0, -64.9, -58.6, -60.1, -57.9, -63.2, -59.4, -58.2, -61.6, -57.6, -66.3, -58.8, -59.5, -57.9, -60.9, -58.4, -62.7, -59.1, -57.8, -65.0, -58.6, -60.4, -57.7, -62.1, -67.6, -58.9, -50.9, -45.7, -44.4, -47.4, -52.9, -59.6, -66.6, -61.0, -58.8, -57.7, -63.3, -59.2, -58.4, -60.6, -57.9, -66.5, -59.0, -58.3, -61.6, -57.6, -60.2, -59.6, -64.1, -58.1, -57.8, -62.5, -59.3, -58.6, -60.9, -57.7, -63.7];
const run60 = [-57.8, -60.0, -58.9, -65.7, -57.6, -59.3, -61.9, -58.4, -57.9, -63.8, -59.6, -58.1, -60.5, -57.7, -67.2, -59.0, -58.3, -61.4, -57.8, -59.7, -64.4, -58.6, -57.6, -60.8, -59.2, -58.0, -62.5, -64.7, -63.5, -55.6, -48.8, -44.8, -43.4, -45.0, -49.3, -54.6, -60.4, -64.9, -58.4, -60.1, -57.6, -62.3, -59.0, -58.2, -66.7, -59.5, -57.8, -61.1, -58.7, -63.9, -59.3, -57.9, -60.4, -58.1, -62.7, -57.7, -59.9, -65.6, -58.5, -57.8, -61.3];
const run61 = [-61.1, -59.3, -57.9, -62.7, -58.2, -60.6, -57.7, -64.5, -59.0, -58.5, -61.8, -57.8, -65.9, -59.7, -58.3, -60.2, -57.6, -63.6, -58.8, -59.4, -57.9, -66.2, -58.6, -60.0, -57.7, -62.3, -59.1, -58.0, -73.4, -63.7, -53.8, -47.1, -45.9, -48.6, -54.7, -62.0, -69.7, -58.7, -60.9, -57.9, -63.8, -59.3, -58.0, -61.4, -57.7, -65.7, -58.6, -59.5, -57.8, -62.1, -59.0, -58.4, -67.3, -57.9, -60.5, -58.9, -63.0, -57.6, -59.8, -61.9, -58.3];
const run62 = [-58.5, -63.2, -59.6, -57.7, -60.9, -58.8, -66.5, -57.9, -59.1, -61.6, -58.0, -57.6, -64.2, -59.4, -58.6, -62.4, -57.8, -60.3, -59.0, -68.0, -58.2, -57.7, -61.2, -59.8, -58.4, -63.9, -57.9, -60.7, -65.9, -57.6, -50.0, -45.4, -44.0, -46.8, -52.0, -58.3, -65.0, -62.4, -57.9, -59.3, -58.5, -65.3, -59.7, -57.7, -60.7, -58.2, -63.5, -59.1, -57.9, -61.9, -58.6, -66.2, -59.4, -57.8, -60.5, -58.0, -62.9, -59.2, -57.6, -64.6, -58.7];

const runs = [run00, run01, run02, run03, run04, run05, run06, run07, run08, run09, run10, run11, run12, run13, run14, run15, run16, run17, run18, run19, run20, run21, run22, run23, run24, run25, run26, run27, run28, run29, run30, run31, run32, run33, run34, run35, run36, run37, run38, run39, run40, run41, run42, run43, run44, run45, run46, run47, run48, run49, run50, run51, run52, run53, run54, run55, run56, run57, run58, run59, run60, run61, run62];

const FONT = "'Liberation Sans', Arial, Helvetica, sans-serif";

export default function App() {
  const ref = useRef<HTMLDivElement | null>(null);

  useEffect(() => {
    document.body.style.margin = "0";
    if (!ref.current) return;
    const chart = echarts.init(ref.current, undefined, { renderer: "svg" });

    const axisLine = { show: true, onZero: false, lineStyle: { color: "#000", width: 1 } };
    const axisTick = { show: true, inside: true, length: 7, lineStyle: { color: "#000", width: 1 } };

    const series = runs.map((r, i) => {
      const c = lineColors[i % lineColors.length];
      return {
        type: "line",
        xAxisIndex: 0,
        yAxisIndex: 0,
        data: times.map((t, k) => [t, r[k]]),
        showSymbol: false,
        symbol: "none",
        smooth: false,
        clip: true,
        silent: true,
        lineStyle: { color: c, width: 1.7 },
        itemStyle: { color: c },
        emphasis: { disabled: true },
      };
    });

    chart.setOption({
      animation: false,
      backgroundColor: "#ffffff",
      title: {
        text: titleText,
        left: "center",
        top: 3,
        textStyle: { fontSize: 19.6, fontWeight: "normal", color: "#000", fontFamily: FONT },
      },
      grid: { left: 95, right: 79, top: 40, bottom: 53, containLabel: false },
      xAxis: [
        {
          type: "value",
          position: "bottom",
          min: xTicks.min,
          max: xTicks.max,
          interval: xTicks.step,
          axisLine,
          axisTick,
          splitLine: { show: false },
          axisLabel: { color: "#000", fontSize: 18, margin: 10, fontFamily: FONT },
          name: xName,
          nameLocation: "middle",
          nameGap: 37,
          nameTextStyle: { color: "#000", fontSize: 17, fontFamily: FONT },
        },
        {
          type: "value",
          position: "top",
          min: xTicks.min,
          max: xTicks.max,
          interval: xTicks.step,
          axisLine,
          axisTick,
          splitLine: { show: false },
          axisLabel: { show: false },
        },
      ],
      yAxis: [
        {
          type: "value",
          position: "left",
          min: yTicks.min,
          max: yTicks.max,
          interval: yTicks.step,
          axisLine,
          axisTick,
          splitLine: { show: false },
          axisLabel: { color: "#000", fontSize: 18, margin: 8, fontFamily: FONT },
          name: yName,
          nameLocation: "middle",
          nameGap: 51,
          nameRotate: 90,
          nameTextStyle: { color: "#000", fontSize: 17, fontFamily: FONT },
        },
        {
          type: "value",
          position: "right",
          min: yTicks.min,
          max: yTicks.max,
          interval: yTicks.step,
          axisLine,
          axisTick,
          splitLine: { show: false },
          axisLabel: { show: false },
        },
      ],
      series,
    });

    return () => {
      chart.dispose();
    };
  }, []);

  return (
    <div
      ref={ref}
      style={{ position: "absolute", left: 0, top: 0, width: 872, height: 662, background: "#fff" }}
    />
  );
}
